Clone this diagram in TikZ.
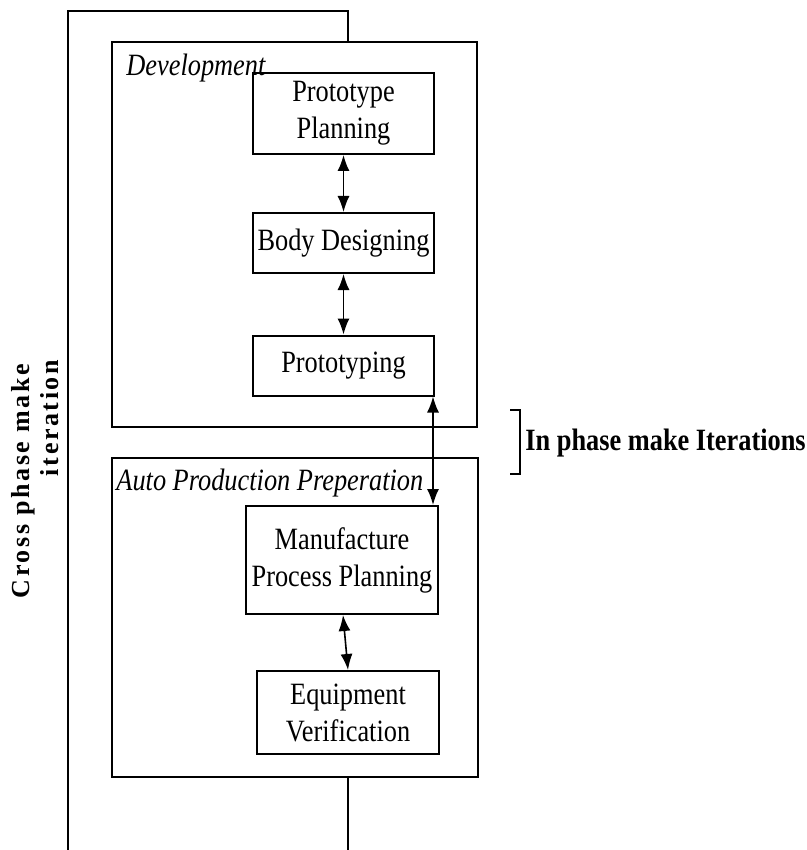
\documentclass[tikz,border=0pt]{standalone}
\usepackage{fontspec}
\setmainfont{Liberation Serif}
\newfontfamily\cond[FakeStretch=0.85]{Liberation Serif}
\newfontfamily\spaced[LetterSpace=10]{Liberation Serif}
\usetikzlibrary{arrows.meta}
\begin{document}
\begin{tikzpicture}[x=0.5pt,y=-0.5pt,
  txt/.style={font=\cond\fontsize{15.5pt}{18.5pt}\selectfont, align=center, inner sep=0pt},
  stepbox/.style={draw, line width=1pt, rectangle, inner sep=0pt, txt},
  phasebox/.style={draw, line width=1pt, rectangle, inner sep=0pt},
  phaselabel/.style={font=\cond\itshape\fontsize{15.5pt}{18.5pt}\selectfont, anchor=west, inner sep=0pt},
  biarrow/.style={{Latex[length=8pt,width=6pt]}-{Latex[length=8pt,width=6pt]}, line width=0.8pt},
  frame/.style={line width=0.8pt},
  crosslab/.style={font=\spaced\bfseries\fontsize{13pt}{15pt}\selectfont, rotate=90, inner sep=0pt}
]
\useasboundingbox (0,0) rectangle (807,850);

% phase containers
\node[phasebox, minimum width=182.5pt, minimum height=192.5pt] (dev) at (294.5,234.5) {};
\node[phasebox, minimum width=183pt, minimum height=159.5pt] (app) at (295,617.5) {};

\node[phaselabel] (devlab) at (126,68) {Development};
\node[phaselabel] (applab) at (116,483) {Auto Production Preperation};

% steps
\node[stepbox, minimum width=90.5pt, minimum height=40.5pt] (pp) at (343.5,113.5) {Prototype\\Planning};
\node[stepbox, minimum width=90.5pt, minimum height=30pt] (bd) at (343.5,243) {Body Designing};
\node[stepbox, minimum width=90.5pt, minimum height=30pt] (pt) at (343.5,365.5) {Prototyping};
\node[stepbox, minimum width=96pt, minimum height=54pt] (mpp) at (342,560) {Manufacture\\Process Planning};
\node[stepbox, minimum width=91pt, minimum height=41.5pt] (ev) at (348,712.5) {Equipment\\Verification};

% arrows
\draw[biarrow] (pp.south) -- (bd.north);
\draw[biarrow] (bd.south) -- (pt.north);
\draw[biarrow] ([xshift=0.5pt]mpp.south) -- (ev.north);
\draw[biarrow] ([xshift=-1pt]pt.south east) -- ([xshift=-1pt]pt.south east |- mpp.north);

% cross phase frame
\coordinate (cl) at (68,850);
\coordinate (ctop) at (348,11);
\coordinate (cb) at (348,850);
\draw[frame] (cl) |- (ctop) -- (ctop |- dev.north);
\draw[frame] (cb |- app.south) -- (cb);

% in-phase bracket
\coordinate (bt) at (510,410);
\coordinate (bb) at (510,474);
\draw[line width=0.8pt] (bt) -- ++(10,0) |- (bb);
\node[font=\cond\bfseries\fontsize{15.5pt}{18.5pt}\selectfont, anchor=west, inner sep=0pt] (inph) at (525,443) {In phase make Iterations};

% cross phase label
\node[crosslab] (cr1) at (23,481) {Cross phase make};
\node[crosslab] (cr2) at (50,418) {iteration};
\end{tikzpicture}
\end{document}
